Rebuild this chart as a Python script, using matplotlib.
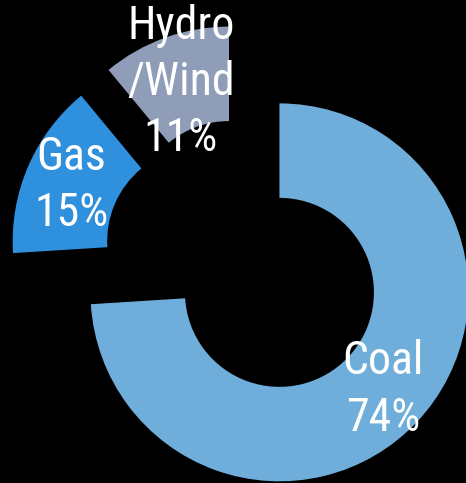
import matplotlib.pyplot as plt

# generation mix
labels = ["Coal\n74%", "Gas\n15%", "Hydro\n/Wind\n11%"]
shares = [74, 15, 11]
colors = ["#6fadda", "#2f90de", "#8f9db8"]
explode = [0.25, 0.25, 0.25]

plt.rcParams["font.family"] = ["Roboto Condensed", "Liberation Sans", "DejaVu Sans"]

fig = plt.figure(figsize=(4.66, 4.83), dpi=100, facecolor="black")
ax = fig.add_axes([0, 0, 1, 1])
ax.set_facecolor("black")

wedges, texts = ax.pie(
    shares,
    labels=labels,
    colors=colors,
    explode=explode,
    startangle=90,
    counterclock=False,
    radius=1.0,
    labeldistance=0.75,
    wedgeprops=dict(width=0.5, linewidth=0),
    textprops=dict(color="white", fontsize=33, linespacing=1.35),
)
for t in texts:
    t.set_horizontalalignment("center")
    t.set_verticalalignment("center")

ax.set_xlim(-1.296, 1.169)
ax.set_ylim(-1.180, 1.376)
ax.set_aspect("equal")
ax.axis("off")

plt.savefig("out.png", dpi=100, facecolor="black")
